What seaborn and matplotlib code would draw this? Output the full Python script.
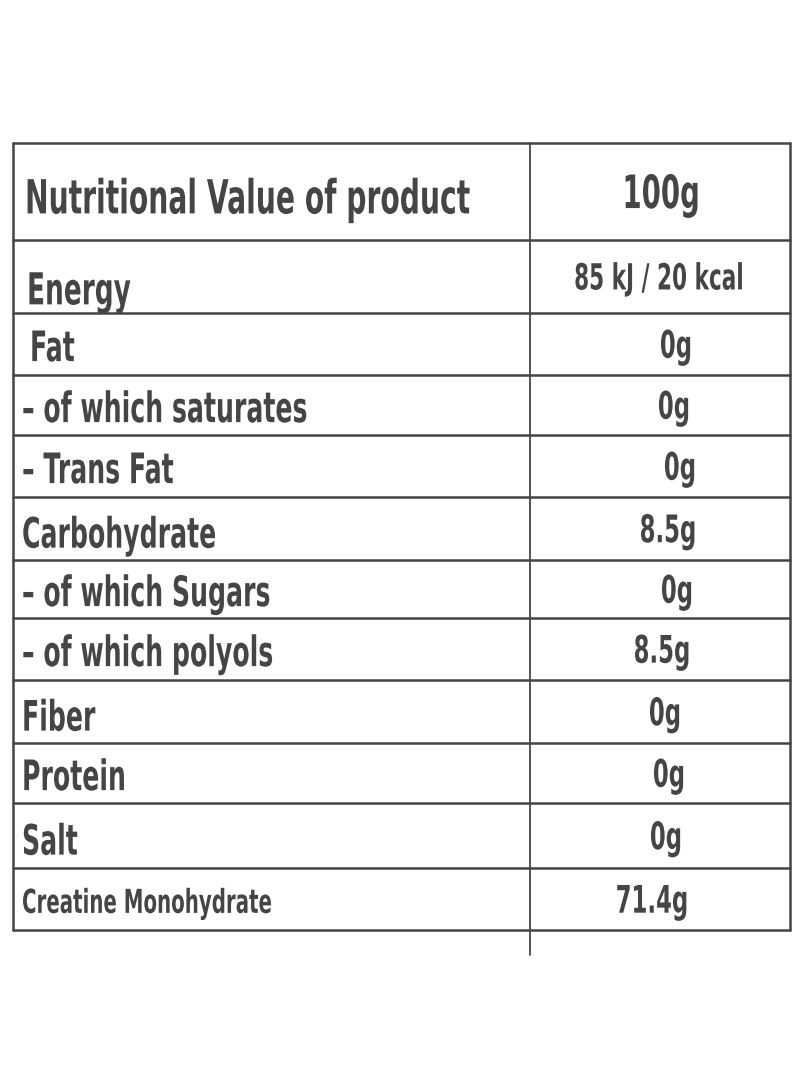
import matplotlib.pyplot as plt
import seaborn as sns
from matplotlib.textpath import TextPath
from matplotlib.patches import PathPatch
from matplotlib.font_manager import FontProperties
from matplotlib.transforms import Affine2D

sns.set_style("white")
plt.rcParams['font.family'] = ['DejaVu Sans']

# table content
header = ["Nutritional Value of product", "100g"]
nutrients = ["Energy", "Fat", "– of which saturates", "– Trans Fat", "Carbohydrate",
             "– of which Sugars", "– of which polyols", "Fiber", "Protein", "Salt",
             "Creatine Monohydrate"]
amounts = ["85 kJ / 20 kcal", "0g", "0g", "0g", "8.5g", "0g", "8.5g", "0g", "0g", "0g", "71.4g"]

# row boundaries in pixels
edges = [143, 240, 313, 375, 435, 497, 560, 618, 680, 743, 803, 868, 930]
label_x = [25, 27, 30, 22, 22, 22, 22, 22, 22, 22, 22, 22]
value_x = [660, 658, 675, 673, 679, 667, 676, 661, 664, 668, 665, 651]
label_px = [47, 44, 42, 42, 42, 42, 42, 42, 42, 42, 42, 33]
value_px = [46, 36, 38, 38, 38, 38, 38, 38, 38, 38, 38, 38]
row_shift = [5, 12, 2, 2, 2, 4, 2, 2, 4, 2, 4, 2]

col = "#454545"
fp = FontProperties(family="DejaVu Sans", weight="bold")
SX = 0.6


def draw(ax, x, yc, s, px, ha):
    tp = TextPath((0, 0), s, size=px, prop=fp)
    w = tp.get_extents().x1 * SX
    x0 = x - w / 2 if ha == "center" else x
    tr = Affine2D().scale(SX, -1).translate(x0, yc + 0.36 * px)
    ax.add_patch(PathPatch(tr.transform_path(tp), color=col, lw=0))


fig = plt.figure(figsize=(8, 10.91), dpi=100)
ax = fig.add_axes([0, 0, 1, 1])
ax.set_xlim(0, 800)
ax.set_ylim(1091, 0)
ax.axis("off")

left, mid, right = 13, 530, 790
for y in edges:
    ax.plot([left, right], [y, y], color=col, lw=1.8)
ax.plot([left, left], [edges[0], edges[-1]], color=col, lw=1.8)
ax.plot([right, right], [edges[0], edges[-1]], color=col, lw=1.8)
ax.plot([mid, mid], [edges[0], 955], color=col, lw=1.3)

rows = [header] + list(zip(nutrients, amounts))
for i, (lab, val) in enumerate(rows):
    yc = (edges[i] + edges[i + 1]) / 2
    draw(ax, label_x[i], yc + row_shift[i], lab, label_px[i], "left")
    draw(ax, value_x[i], yc, val, value_px[i], "center")

fig.savefig("out.png", dpi=100, facecolor="white")
